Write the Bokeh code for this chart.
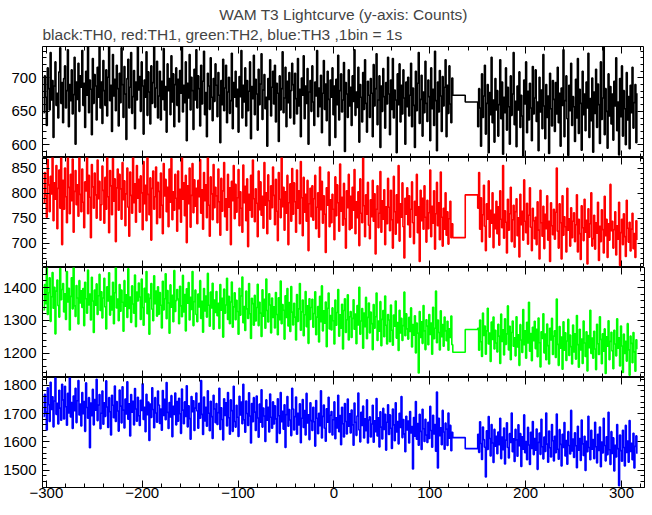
from bokeh.plotting import figure
from bokeh.models import LinearAxis, SingleIntervalTicker, Range1d, Title, Spacer
from bokeh.layouts import column
from bokeh.embed import file_html
from bokeh.resources import INLINE

FONT = "Liberation Sans"

TITLE = "WAM T3 Lightcurve (y-axis: Counts)"
SUBTITLE = "black:TH0, red:TH1, green:TH2, blue:TH3 ,1bin = 1s"

# time bins (1 bin = 1 s): first segment starts at -303 s, second at 150 s
T_A_START = -303
T_B_START = 150
T_GAP = [124, 137]

# ---------------- TH0 (black) ----------------
th0_a = [
    648, 703, 671, 629, 715, 684, 652, 738, 667, 696, 611, 688, 724, 659, 677, 640, 709, 745, 662, 693,
    633, 699, 718, 655, 681, 742, 627, 690, 666, 712, 646, 675, 731, 601, 694, 668, 722, 650, 703, 686,
    741, 659, 692, 626, 710, 674, 750, 648, 697, 683, 615, 729, 662, 705, 688, 637, 716, 671, 748, 655,
    694, 632, 726, 681, 659, 712, 643, 701, 752, 666, 689, 620, 735, 673, 698, 651, 719, 684, 628, 707,
    663, 745, 690, 641, 717, 676, 608, 699, 728, 655, 686, 738, 647, 672, 711, 624, 694, 667, 749, 682,
    702, 650, 724, 688, 616, 697, 671, 739, 644, 709, 679, 631, 718, 662, 693, 751, 656, 685, 725, 640,
    673, 710, 637, 695, 668, 744, 652, 687, 619, 721, 681, 699, 645, 733, 664, 706, 627, 690, 715, 659,
    698, 634, 711, 677, 746, 649, 689, 663, 724, 606, 692, 670, 735, 652, 701, 681, 623, 713, 667, 742,
    655, 703, 684, 628, 719, 661, 695, 740, 645, 678, 612, 707, 688, 653, 730, 671, 636, 699, 665, 721,
    689, 642, 708, 674, 603, 696, 660, 728, 651, 685, 719, 633, 679, 701, 647, 666, 737, 624, 693, 671,
    710, 657, 683, 619, 702, 672, 741, 640, 689, 664, 715, 628, 696, 651, 680, 724, 609, 687, 669, 734,
    645, 698, 676, 622, 713, 660, 691, 736, 638, 682, 705, 654, 671, 598, 699, 668, 727, 643, 686, 710,
    661, 719, 634, 692, 677, 605, 703, 652, 684, 739, 648, 670, 716, 627, 695, 663, 708, 640, 681, 722,
    690, 631, 707, 669, 646, 729, 658, 683, 612, 700, 674, 733, 639, 688, 662, 714, 601, 679, 696, 650,
    718, 664, 629, 694, 673, 741, 642, 685, 657, 704, 618, 677, 726, 653, 691, 636, 710, 668, 599, 697,
    671, 715, 645, 688, 611, 698, 660, 734, 637, 681, 706, 649, 667, 723, 590, 693, 676, 641, 712, 658,
    686, 629, 703, 665, 742, 644, 679, 656, 716, 604, 690, 671, 634, 708, 653, 727, 662, 619, 695, 674,
    641, 699, 677, 612, 720, 658, 684, 736, 630, 667, 703, 596, 688, 650, 714, 672, 625, 693, 661, 731,
    676, 615, 697, 653, 729, 640, 682, 667, 588, 706, 660, 721, 634, 689, 646, 712, 670, 601, 694, 657,
    701, 643, 674, 722, 627, 685, 659, 596, 710, 651, 692, 738, 632, 668, 704, 613, 679, 648, 725, 662,
    635, 697, 672, 606, 715, 654, 683, 629, 740, 666, 591, 694, 649, 711, 673, 620, 702, 658, 686, 727,
    612, 689, 647, 718, 661, 633, 700,
]
th0_gap = [674, 664]
th0_b = [
    627, 684, 655, 598, 706, 641, 673, 719, 616, 662, 690, 588, 678, 645, 731, 633, 667, 604, 699, 652,
    681, 613, 660, 727, 639, 694, 586, 671, 648, 715, 622, 686, 657, 601, 703, 644, 676, 738, 630, 665,
    597, 688, 652, 709, 626, 674, 643, 583, 697, 661, 724, 618, 680, 637, 692, 655, 606, 717, 646, 670,
    712, 635, 664, 591, 701, 649, 682, 624, 735, 658, 609, 690, 641, 673, 587, 707, 654, 628, 696, 668,
    620, 693, 646, 716, 633, 677, 598, 685, 659, 742, 612, 666, 703, 639, 584, 689, 651, 722, 629, 672,
    657, 605, 698, 640, 729, 617, 683, 662, 592, 710, 645, 676, 621, 694, 655, 737, 611, 669, 636, 700,
    589, 679, 647, 713, 626, 691, 660, 602, 724, 638, 670, 749, 615, 684, 650, 595, 706, 643, 687, 631,
    676, 607, 695, 658, 730, 621, 664, 585, 699, 642, 718, 613, 681, 654, 600, 708, 637, 672, 594, 689,
    648, 716, 625, 663, 690, 603, 677,
]

# ---------------- TH1 (red) ----------------
th1_a = [
    781, 842, 796, 752, 868, 817, 763, 834, 799, 880, 745, 821, 788, 856, 729, 810, 847, 770, 893, 697,
    826, 768, 851, 793, 741, 875, 812, 759, 838, 785, 869, 722, 804, 846, 777, 817, 754, 883, 798, 763,
    849, 782, 731, 823, 805, 874, 759, 836, 792, 711, 858, 813, 770, 841, 797, 750, 867, 789, 824, 746,
    777, 855, 806, 740, 832, 768, 880, 793, 721, 846, 815, 757, 870, 784, 829, 703, 811, 849, 766, 838,
    809, 748, 862, 787, 825, 735, 799, 851, 772, 714, 843, 796, 760, 877, 781, 819, 742, 856, 790, 828,
    762, 835, 801, 727, 864, 779, 816, 745, 888, 798, 757, 831, 706, 810, 845, 768, 793, 853, 739, 822,
    804, 751, 841, 776, 719, 860, 795, 828, 763, 812, 733, 849, 782, 870, 747, 803, 766, 838, 790, 724,
    845, 769, 808, 742, 877, 788, 821, 755, 836, 701, 815, 779, 851, 732, 796, 860, 761, 827, 774, 810,
    739, 826, 793, 868, 760, 807, 728, 842, 785, 817, 751, 872, 776, 714, 833, 799, 747, 858, 771, 812,
    795, 741, 849, 783, 716, 830, 764, 805, 862, 753, 789, 726, 838, 772, 811, 697, 824, 785, 856, 749,
    818, 762, 791, 848, 735, 803, 770, 722, 857, 781, 814, 745, 829, 693, 798, 766, 836, 752, 867, 789,
    743, 809, 780, 713, 845, 767, 823, 756, 794, 730, 862, 776, 801, 719, 837, 785, 748, 815, 771, 853,
    796, 737, 828, 764, 705, 842, 788, 751, 874, 773, 812, 726, 803, 760, 836, 697, 781, 819, 744, 850,
    758, 821, 783, 722, 847, 770, 805, 739, 864, 791, 715, 832, 762, 798, 744, 826, 685, 779, 810, 753,
    815, 746, 789, 836, 729, 772, 801, 712, 853, 767, 824, 740, 795, 758, 681, 811, 776, 843, 733, 787,
    741, 798, 768, 707, 833, 755, 817, 781, 724, 859, 764, 792, 736, 820, 749, 690, 805, 771, 838, 727,
    794, 730, 812, 766, 848, 719, 783, 751, 803, 695, 829, 760, 741, 871, 775, 713, 797, 758, 822, 736,
    709, 787, 753, 826, 744, 799, 678, 768, 815, 731, 760, 844, 722, 785, 748, 807, 697, 773, 739, 830,
    772, 725, 806, 747, 690, 834, 763, 718, 797, 741, 856, 704, 779, 752, 821, 733, 670, 790, 758, 811,
    737, 795, 712, 768, 823, 741, 699, 784, 756, 838, 721, 773, 663, 806, 745, 790, 728, 815, 752, 702,
    786, 729, 761, 847, 713, 774, 740, 805, 688, 759, 822, 735, 781, 707, 843, 752, 694, 770, 728, 801,
    716, 763, 698, 749, 784, 711, 739,
]
th1_gap = [711, 797]
th1_b = [
    770, 842, 728, 791, 703, 757, 816, 734, 685, 779, 748, 825, 712, 766, 740, 801, 691, 758, 729, 784,
    719, 773, 696, 805, 748, 731, 856, 710, 765, 742, 680, 788, 726, 759, 812, 703, 747, 776, 692, 763,
    789, 715, 751, 672, 798, 737, 764, 706, 827, 744, 721, 780, 698, 756, 811, 732, 685, 770, 745, 709,
    752, 697, 783, 726, 668, 806, 741, 714, 774, 689, 758, 729, 795, 706, 744, 663, 781, 735, 717, 768,
    708, 762, 851, 724, 690, 779, 741, 668, 795, 716, 753, 733, 682, 810, 726, 749, 694, 771, 711, 744,
    761, 703, 737, 797, 682, 748, 719, 667, 775, 731, 705, 788, 722, 746, 658, 769, 712, 739, 801, 694,
    709, 756, 688, 741, 720, 782, 665, 734, 703, 767, 727, 680, 794, 715, 748, 671, 739, 706, 818, 725,
    744, 690, 727, 763, 676, 735, 708, 782, 655, 721, 748, 697, 759, 713, 673, 786, 730, 702, 742, 684,
    728, 760, 689, 719, 671, 745, 706,
]

# ---------------- TH2 (green) ----------------
th2_a = [
    1332, 1409, 1351, 1465, 1318, 1384, 1430, 1297, 1372, 1446, 1337, 1401, 1259, 1389, 1423, 1345, 1310, 1458, 1363, 1394,
    1412, 1326, 1381, 1303, 1449, 1356, 1398, 1271, 1373, 1430, 1335, 1467, 1344, 1312, 1406, 1368, 1289, 1421, 1353, 1390,
    1339, 1397, 1284, 1416, 1366, 1322, 1453, 1347, 1380, 1301, 1431, 1359, 1263, 1392, 1346, 1411, 1318, 1375, 1440, 1330,
    1387, 1307, 1368, 1428, 1341, 1274, 1402, 1359, 1445, 1316, 1373, 1332, 1416, 1290, 1384, 1463, 1338, 1365, 1299, 1409,
    1328, 1392, 1355, 1267, 1421, 1343, 1378, 1309, 1457, 1336, 1371, 1294, 1405, 1350, 1322, 1438, 1281, 1386, 1359, 1414,
    1371, 1303, 1426, 1339, 1285, 1398, 1356, 1449, 1320, 1380, 1258, 1367, 1412, 1334, 1299, 1436, 1351, 1389, 1313, 1402,
    1319, 1385, 1346, 1277, 1419, 1332, 1366, 1442, 1305, 1391, 1353, 1261, 1408, 1340, 1376, 1296, 1452, 1327, 1360, 1394,
    1365, 1290, 1404, 1344, 1311, 1437, 1326, 1379, 1268, 1396, 1352, 1415, 1301, 1370, 1333, 1449, 1284, 1357, 1392, 1318,
    1296, 1380, 1341, 1421, 1306, 1358, 1264, 1397, 1329, 1374, 1310, 1443, 1346, 1282, 1386, 1338, 1413, 1273, 1362, 1324,
    1388, 1314, 1352, 1275, 1409, 1331, 1367, 1249, 1395, 1322, 1347, 1428, 1303, 1373, 1290, 1356, 1417, 1279, 1341, 1384,
    1302, 1361, 1327, 1258, 1398, 1316, 1374, 1432, 1293, 1342, 1269, 1389, 1335, 1306, 1412, 1320, 1245, 1367, 1351, 1285,
    1376, 1298, 1339, 1410, 1284, 1355, 1322, 1251, 1393, 1313, 1364, 1276, 1426, 1330, 1295, 1381, 1347, 1262, 1368, 1309,
    1341, 1277, 1385, 1318, 1256, 1369, 1302, 1420, 1290, 1348, 1331, 1243, 1375, 1309, 1397, 1283, 1354, 1266, 1403, 1325,
    1286, 1352, 1310, 1240, 1379, 1297, 1335, 1412, 1270, 1326, 1362, 1253, 1317, 1388, 1281, 1344, 1230, 1366, 1303, 1339,
    1364, 1279, 1321, 1387, 1256, 1310, 1342, 1234, 1373, 1296, 1405, 1268, 1329, 1291, 1356, 1220, 1337, 1383, 1274, 1315,
    1271, 1338, 1299, 1228, 1362, 1285, 1324, 1394, 1252, 1317, 1276, 1349, 1213, 1330, 1366, 1263, 1302, 1378, 1240, 1311,
    1327, 1248, 1306, 1363, 1273, 1319, 1229, 1345, 1286, 1401, 1258, 1298, 1336, 1215, 1322, 1281, 1370, 1244, 1309, 1353,
    1262, 1325, 1290, 1211, 1348, 1276, 1311, 1383, 1239, 1298, 1267, 1357, 1223, 1303, 1330, 1250, 1374, 1285, 1228, 1318,
    1301, 1235, 1347, 1270, 1224, 1316, 1282, 1359, 1246, 1293, 1208, 1331, 1262, 1306, 1239, 1284, 1386, 1253, 1320, 1274,
    1243, 1309, 1266, 1338, 1219, 1287, 1255, 1314, 1201, 1292, 1261, 1140, 1327, 1248, 1296, 1230, 1345, 1268, 1211, 1302,
    1283, 1226, 1318, 1257, 1292, 1197, 1340, 1244, 1276, 1389, 1232, 1301, 1263, 1210, 1329, 1250, 1287, 1221, 1310, 1268,
    1238, 1297, 1209, 1274, 1248, 1313, 1226,
]
th2_gap = [1203, 1272]
th2_b = [
    1276, 1209, 1301, 1235, 1190, 1322, 1254, 1283, 1197, 1268, 1337, 1228, 1261, 1175, 1295, 1242, 1310, 1213, 1270, 1231,
    1204, 1288, 1252, 1169, 1319, 1236, 1271, 1195, 1305, 1227, 1259, 1344, 1210, 1282, 1180, 1263, 1298, 1221, 1247, 1192,
    1311, 1219, 1256, 1163, 1287, 1240, 1202, 1333, 1226, 1268, 1185, 1294, 1231, 1355, 1206, 1260, 1177, 1279, 1238, 1297,
    1214, 1273, 1189, 1307, 1232, 1158, 1265, 1245, 1320, 1201, 1258, 1180, 1289, 1223, 1167, 1276, 1240, 1306, 1196, 1252,
    1268, 1187, 1365, 1227, 1163, 1281, 1215, 1249, 1151, 1296, 1209, 1262, 1178, 1237, 1303, 1193, 1255, 1220, 1167, 1286,
    1204, 1259, 1182, 1315, 1226, 1157, 1273, 1210, 1243, 1169, 1298, 1231, 1190, 1265, 1146, 1254, 1217, 1331, 1199, 1246,
    1185, 1267, 1213, 1150, 1288, 1229, 1196, 1311, 1242, 1168, 1259, 1206, 1274, 1138, 1250, 1221, 1299, 1180, 1236, 1264,
    1207, 1153, 1270, 1228, 1192, 1305, 1215, 1247, 1161, 1283, 1222, 1141, 1258, 1199, 1236, 1176, 1290, 1210, 1133, 1252,
    1230, 1171, 1263, 1204, 1145, 1241, 1212,
]

# ---------------- TH3 (blue) ----------------
th3_a = [
    1690, 1768, 1705, 1642, 1791, 1731, 1672, 1810, 1714, 1759, 1653, 1744, 1826, 1697, 1736, 1663, 1782, 1719, 1676, 1803,
    1748, 1681, 1796, 1724, 1659, 1771, 1702, 1833, 1688, 1739, 1647, 1762, 1710, 1789, 1668, 1745, 1816, 1695, 1733, 1656,
    1774, 1699, 1742, 1637, 1808, 1721, 1683, 1756, 1579, 1737, 1692, 1785, 1660, 1749, 1712, 1821, 1675, 1730, 1767, 1646,
    1701, 1779, 1662, 1738, 1690, 1815, 1723, 1651, 1756, 1706, 1624, 1764, 1729, 1685, 1797, 1672, 1742, 1709, 1638, 1783,
    1726, 1667, 1794, 1712, 1649, 1751, 1698, 1812, 1680, 1734, 1621, 1767, 1705, 1743, 1660, 1788, 1716, 1673, 1757, 1692,
    1658, 1747, 1711, 1805, 1679, 1722, 1636, 1768, 1696, 1740, 1605, 1733, 1686, 1791, 1714, 1650, 1756, 1702, 1669, 1779,
    1730, 1665, 1716, 1641, 1781, 1693, 1750, 1678, 1809, 1704, 1647, 1739, 1688, 1763, 1618, 1725, 1697, 1772, 1660, 1742,
    1673, 1754, 1699, 1630, 1786, 1712, 1664, 1741, 1690, 1798, 1653, 1727, 1682, 1609, 1760, 1706, 1745, 1640, 1719, 1772,
    1709, 1648, 1736, 1683, 1816, 1697, 1626, 1758, 1674, 1722, 1655, 1780, 1701, 1639, 1743, 1689, 1612, 1764, 1716, 1668,
    1735, 1661, 1703, 1789, 1644, 1720, 1679, 1607, 1752, 1693, 1738, 1656, 1774, 1685, 1627, 1748, 1710, 1637, 1796, 1672,
    1652, 1729, 1687, 1619, 1761, 1695, 1740, 1664, 1803, 1678, 1634, 1744, 1700, 1658, 1773, 1691, 1596, 1735, 1671, 1756,
    1705, 1640, 1762, 1684, 1616, 1733, 1669, 1784, 1652, 1719, 1691, 1601, 1748, 1676, 1722, 1635, 1769, 1687, 1648, 1741,
    1663, 1727, 1681, 1598, 1752, 1692, 1630, 1774, 1671, 1708, 1645, 1731, 1580, 1696, 1760, 1655, 1714, 1677, 1622, 1789,
    1716, 1642, 1689, 1758, 1627, 1701, 1660, 1734, 1597, 1683, 1749, 1651, 1710, 1624, 1771, 1667, 1695, 1608, 1738, 1675,
    1640, 1722, 1671, 1585, 1746, 1683, 1629, 1701, 1657, 1780, 1614, 1690, 1730, 1648, 1602, 1717, 1669, 1757, 1633, 1694,
    1707, 1624, 1678, 1741, 1611, 1685, 1649, 1764, 1636, 1693, 1590, 1722, 1664, 1617, 1735, 1672, 1628, 1751, 1655, 1699,
    1631, 1712, 1660, 1588, 1737, 1669, 1623, 1691, 1772, 1642, 1600, 1704, 1658, 1726, 1614, 1681, 1639, 1748, 1596, 1677,
    1688, 1617, 1663, 1729, 1599, 1674, 1636, 1753, 1621, 1685, 1582, 1706, 1652, 1610, 1718, 1644, 1697, 1571, 1669, 1731,
    1626, 1695, 1648, 1577, 1716, 1660, 1604, 1738, 1635, 1672, 1593, 1701, 1651, 1760, 1615, 1679, 1628, 1565, 1690, 1642,
    1673, 1596, 1707, 1631, 1654, 1504, 1686, 1620, 1742, 1609, 1665, 1588, 1697, 1637, 1573, 1715, 1646, 1601, 1680, 1624,
    1598, 1669, 1612, 1725, 1640, 1581, 1694, 1628, 1661, 1567, 1776, 1508, 1683, 1622, 1650, 1590, 1711, 1635, 1574, 1666,
    1645, 1587, 1702, 1613, 1658, 1569, 1634,
]
th3_gap = [1615, 1576]
th3_b = [
    1627, 1563, 1671, 1594, 1538, 1652, 1608, 1581, 1476, 1639, 1573, 1689, 1612, 1550, 1661, 1596, 1527, 1644, 1585, 1620,
    1558, 1635, 1590, 1683, 1541, 1617, 1572, 1649, 1522, 1606, 1667, 1580, 1543, 1629, 1598, 1702, 1565, 1611, 1531, 1644,
    1607, 1549, 1660, 1586, 1629, 1513, 1618, 1574, 1695, 1562, 1601, 1537, 1651, 1589, 1520, 1634, 1577, 1672, 1555, 1612,
    1571, 1645, 1503, 1598, 1631, 1556, 1680, 1583, 1540, 1617, 1566, 1702, 1592, 1528, 1638, 1579, 1547, 1661, 1604, 1533,
    1620, 1562, 1698, 1574, 1539, 1643, 1591, 1515, 1627, 1580, 1668, 1550, 1605, 1521, 1636, 1587, 1557, 1711, 1568, 1610,
    1545, 1632, 1586, 1509, 1655, 1571, 1612, 1534, 1677, 1593, 1552, 1620, 1499, 1602, 1565, 1690, 1580, 1537, 1641, 1574,
    1608, 1541, 1669, 1583, 1526, 1627, 1570, 1652, 1512, 1599, 1561, 1683, 1587, 1533, 1618, 1555, 1704, 1572, 1520, 1636,
    1559, 1614, 1497, 1588, 1547, 1661, 1576, 1445, 1624, 1569, 1532, 1641, 1580, 1515, 1658, 1563, 1603, 1528, 1675, 1566,
    1595, 1537, 1630, 1508, 1584, 1621, 1558,
]

SERIES = [
    (th0_a, th0_gap, th0_b, "#000000", (581, 747), 50),
    (th1_a, th1_gap, th1_b, "#ff0000", (651, 872), 50),
    (th2_a, th2_gap, th2_b, "#00ff00", (1126, 1461), 100),
    (th3_a, th3_gap, th3_b, "#0000ff", (1439, 1827), 100),
]
FRAME_H = [111, 110, 110, 110]

xr = Range1d(-304, 324)


def style_axis(ax, show_labels):
    ax.axis_line_color = None
    ax.major_tick_in = 7
    ax.major_tick_out = 0
    ax.minor_tick_in = 4
    ax.minor_tick_out = 0
    ax.major_tick_line_color = "black"
    ax.minor_tick_line_color = "black"
    ax.major_tick_line_width = 1
    ax.minor_tick_line_width = 1
    if show_labels:
        ax.major_label_text_font = FONT
        ax.major_label_text_font_size = "15px"
        ax.major_label_text_color = "black"
    else:
        ax.major_label_text_color = None
        ax.major_label_text_font_size = "0px"
        ax.major_label_standoff = 0


panels = []
for i, (a, gap, b, color, (ylo, yhi), yint) in enumerate(SERIES):
    first = i == 0
    last = i == len(SERIES) - 1
    p = figure(
        output_backend="svg", toolbar_location=None, tools="",
        title=None,
        frame_width=602, frame_height=FRAME_H[i],
        x_range=xr, y_range=Range1d(ylo, yhi),
        min_border_left=40, min_border_right=2,
        min_border_top=0, min_border_bottom=0,
        background_fill_color="white", border_fill_color="white",
        outline_line_color="black", outline_line_width=1,
    )
    p.grid.visible = False
    xt = SingleIntervalTicker(interval=100, num_minor_ticks=5)
    yt = SingleIntervalTicker(interval=yint, num_minor_ticks=5)
    p.xaxis.ticker = xt
    p.yaxis.ticker = yt
    p.add_layout(LinearAxis(ticker=xt), "above")
    p.add_layout(LinearAxis(ticker=yt), "right")
    for ax in p.below:
        style_axis(ax, last)
        if last:
            ax.major_label_standoff = 0
    for ax in p.above:
        style_axis(ax, False)
    for ax in p.right:
        style_axis(ax, False)
    for ax in p.left:
        style_axis(ax, True)
        ax.major_label_standoff = 6

    xs = list(range(T_A_START, T_A_START + len(a))) + T_GAP + list(range(T_B_START, T_B_START + len(b)))
    ys = a + gap + b
    p.step(xs, ys, mode="after", line_color=color, line_width=1.6)

    if first:
        p.add_layout(Title(text=SUBTITLE, align="left", text_font=FONT, text_font_size="15.5px",
                           text_font_style="normal", standoff=8), "above")
        p.add_layout(Title(text=TITLE, align="center", text_font=FONT, text_font_size="15.5px",
                           text_font_style="normal", standoff=-7), "above")
    panels.append(p)

layout = column(Spacer(width=644, height=7), *panels, spacing=0)
open("out.html", "w").write(file_html(layout, INLINE))
